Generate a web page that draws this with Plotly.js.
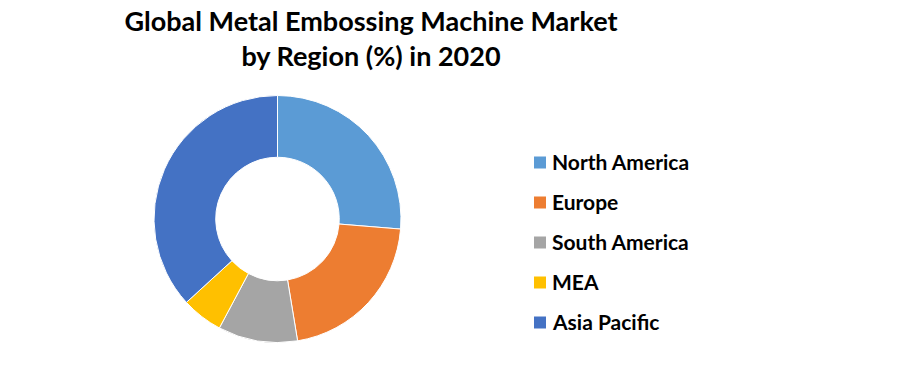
<!DOCTYPE html>
<html>
<head>
<meta charset="utf-8">
<script src="https://cdn.plot.ly/plotly-3.0.1.min.js"></script>
<style>html,body{margin:0;padding:0;background:#fff;}#chart{width:897px;height:383px;}</style>
</head>
<body>
<div id="chart"></div>
<script>
const regions = ["North America", "Europe", "South America", "MEA", "Asia Pacific"];
const shares = [26.3, 21.1, 10.4, 5.4, 36.8];
const colors = ["#5B9BD5", "#ED7D31", "#A5A5A5", "#FFC000", "#4472C4"];

const W = 897, H = 383;
const legendX = 534, legendY0 = 162.5, legendStep = 40, sq = 12;

const shapes = [], annotations = [];
regions.forEach((r, i) => {
  const cy = legendY0 + i * legendStep;
  shapes.push({type: "rect", xref: "paper", yref: "paper",
    x0: legendX / W, x1: (legendX + sq) / W,
    y0: 1 - (cy + sq / 2) / H, y1: 1 - (cy - sq / 2) / H,
    fillcolor: colors[i], line: {width: 0}});
  annotations.push({xref: "paper", yref: "paper", x: (legendX + sq + 4) / W, y: 1 - (cy - 1) / H,
    xanchor: "left", yanchor: "middle", showarrow: false, text: "<b>" + r + "</b>",
    font: {family: "Lato, 'Open Sans', sans-serif", size: 21, color: "#000"}});
});

const data = [{
  type: "pie", labels: regions, values: shares, hole: 0.5, sort: false,
  direction: "clockwise", rotation: 0,
  marker: {colors: colors, line: {color: "#fff", width: 1}},
  textinfo: "none", hoverinfo: "label+percent",
  domain: {x: [154 / W, 401 / W], y: [1 - 342.5 / H, 1 - 95.5 / H]}
}];

const layout = {
  width: W, height: H, margin: {l: 0, r: 0, t: 0, b: 0},
  paper_bgcolor: "#fff", plot_bgcolor: "#fff", showlegend: false,
  title: {text: "<b>Global Metal Embossing Machine Market<br>by Region (%) in 2020</b>",
    x: 371 / W, xanchor: "center", xref: "paper", y: 1 - 31 / H, yanchor: "top", yref: "container",
    font: {family: "Lato, 'Open Sans', sans-serif", size: 27, color: "#000"}},
  shapes: shapes, annotations: annotations
};
Plotly.newPlot("chart", data, layout, {displayModeBar: false, staticPlot: true});
</script>
</body>
</html>
